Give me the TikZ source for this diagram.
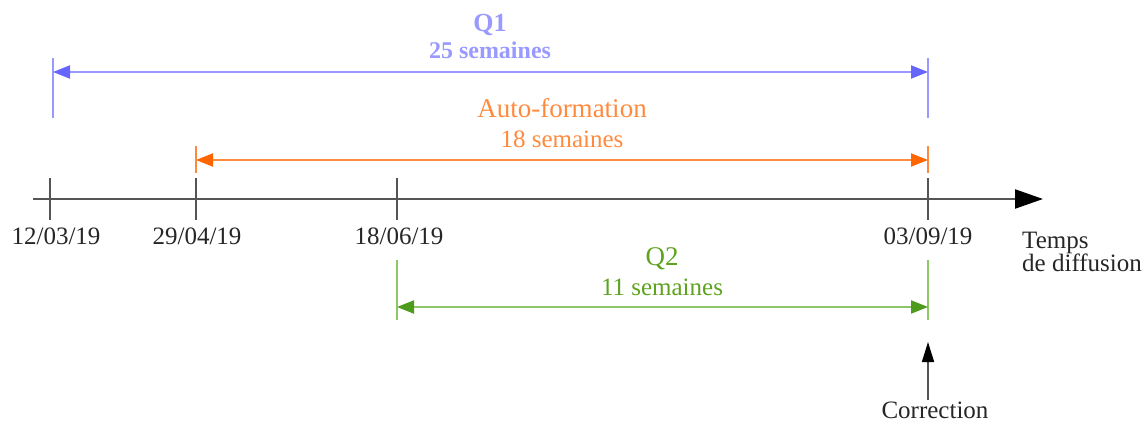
\documentclass[tikz,border=0pt]{standalone}
\usepackage{fontspec}
\setmainfont{Liberation Serif}
\usetikzlibrary{arrows.meta}
\definecolor{qblue}{HTML}{9999FF}
\definecolor{qbluedk}{HTML}{6666FF}
\definecolor{aorange}{HTML}{FF8A3D}
\definecolor{aorangedk}{HTML}{FF6600}
\definecolor{qgreen}{HTML}{8CC864}
\definecolor{qgreendk}{HTML}{4E9A1A}
\definecolor{qgreentx}{HTML}{5EA320}
\definecolor{axisgray}{HTML}{555555}
\tikzset{
  datelbl/.style={anchor=base, inner sep=0pt, font=\fontsize{25}{30}\selectfont, text=black!85},
  titlelbl/.style={anchor=base, inner sep=0pt, font=\fontsize{27}{32}\selectfont},
  sublbl/.style={anchor=base, inner sep=0pt, font=\fontsize{25}{30}\selectfont},
  span/.style={line width=2pt, draw=#1!60!white, {Triangle[length=17pt,width=13pt,color=#1]}-{Triangle[length=17pt,width=13pt,color=#1]}},
  endbar/.style={line width=1.6pt},
  tickmark/.style={line width=1.8pt, draw=axisgray},
}
\begin{document}
\begin{tikzpicture}[x=1pt,y=-1pt]
\useasboundingbox (0,0) rectangle (1148,423);
% axis
\coordinate (ax0) at (33,199);
\coordinate (ax1) at (1043,199);
\draw[line width=2.2pt, draw=axisgray, -{Triangle[length=28pt,width=19pt,color=black]}] (ax0) -- (ax1);
% ticks
\foreach \n/\x in {t1/50, t2/196, t3/397, t4/928}{
  \coordinate (\n a) at (\x,178);
  \coordinate (\n b) at (\x,220);
  \draw[tickmark] (\n a) -- (\n b);
}
% dates
\node[datelbl] (d1) at (56,244) {12/03/19};
\node[datelbl] (d2) at (197,244) {29/04/19};
\node[datelbl] (d3) at (399,244) {18/06/19};
\node[datelbl] (d4) at (928,244) {03/09/19};
% Q1
\coordinate (q1a) at (53,72);
\coordinate (q1b) at (928,72);
\draw[endbar, qblue] (53,58) coordinate (q1at) -- (53,118) coordinate (q1ab);
\draw[endbar, qblue] (928,58) coordinate (q1bt) -- (928,118) coordinate (q1bb);
\draw[span=qbluedk, draw=qblue] (q1a) -- (q1b);
\node[titlelbl, text=qblue, font=\fontsize{26}{31}\selectfont\bfseries] (q1t) at (490,31) {Q1};
\node[sublbl, text=qblue, font=\fontsize{24}{29}\selectfont\bfseries] (q1s) at (490,58) {25 semaines};
% Auto-formation
\coordinate (afa) at (196,160);
\coordinate (afb) at (928,160);
\draw[endbar, aorange] (196,146) coordinate (afat) -- (196,173) coordinate (afab);
\draw[endbar, aorange] (928,146) coordinate (afbt) -- (928,173) coordinate (afbb);
\draw[span=aorangedk, draw=aorange] (afa) -- (afb);
\node[titlelbl, text=aorange] (aft) at (562,117) {Auto-formation};
\node[sublbl, text=aorange] (afs) at (562,147) {18 semaines};
% Q2
\coordinate (q2a) at (397,307);
\coordinate (q2b) at (928,307);
\draw[endbar, qgreen] (397,260) coordinate (q2at) -- (397,320) coordinate (q2ab);
\draw[endbar, qgreen] (928,260) coordinate (q2bt) -- (928,320) coordinate (q2bb);
\draw[span=qgreendk, draw=qgreen] (q2a) -- (q2b);
\node[titlelbl, text=qgreentx] (q2t) at (662,265) {Q2};
\node[sublbl, text=qgreentx] (q2s) at (662,295) {11 semaines};
% axis label
\node[datelbl, anchor=base west] (temps) at (1022,248) {Temps};
\node[datelbl, anchor=base west] (diff) at (1022,271) {de diffusion};
% correction
\node[datelbl] (corr) at (935,418) {Correction};
\coordinate (ctip) at (928,342);
\coordinate (cbase) at (928,400);
\draw[line width=1.6pt, draw=axisgray, -{Triangle[length=20pt,width=12pt,color=black]}] (cbase) -- (ctip);
\end{tikzpicture}
\end{document}
